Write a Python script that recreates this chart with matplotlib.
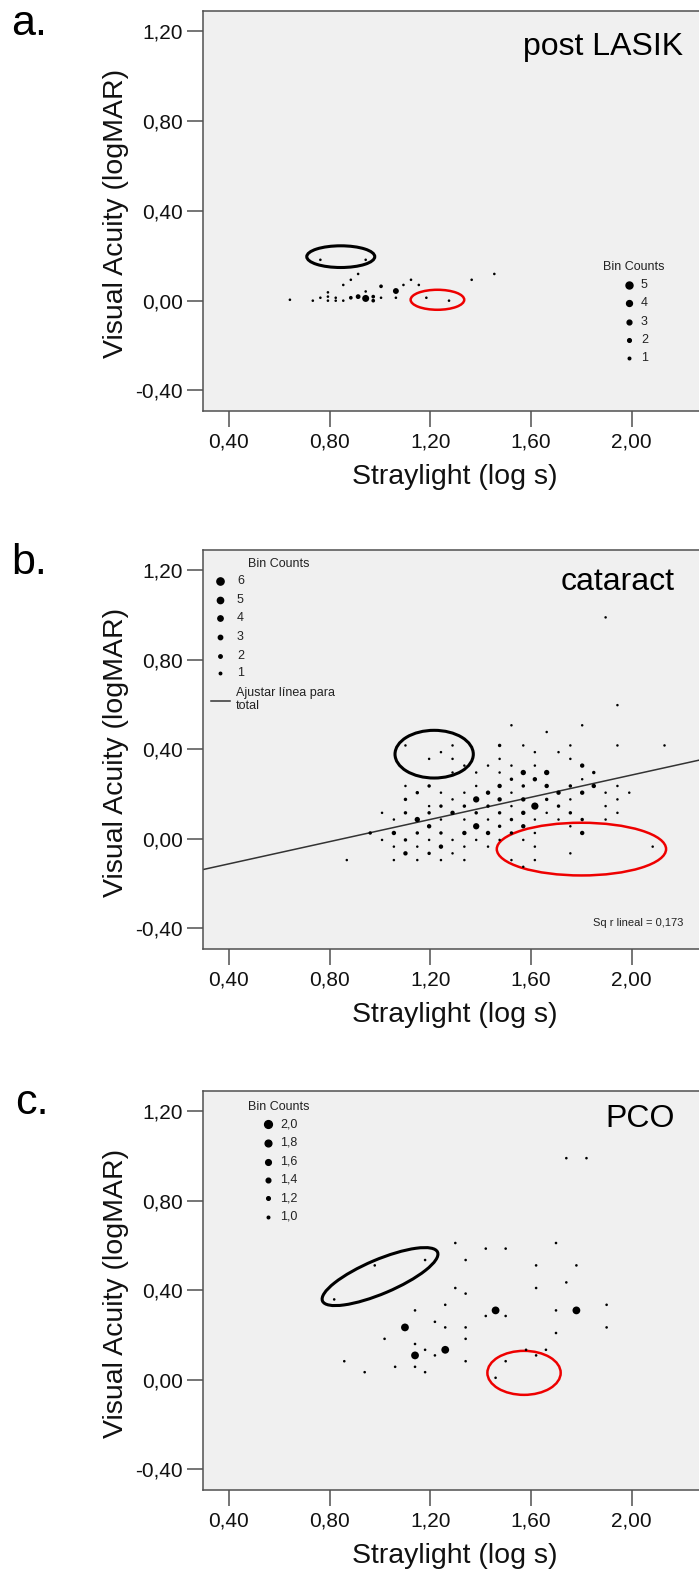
import numpy as np
import matplotlib
matplotlib.use('Agg')
import matplotlib.pyplot as plt
import matplotlib.transforms as mtransforms
from matplotlib.patches import Ellipse
from matplotlib.lines import Line2D

plt.rcParams['font.family'] = ['Liberation Sans', 'DejaVu Sans']

W, H, DPI = 699, 1573, 100

# a. post LASIK  (binned scatter: x, y, count in bin)
a_x = [0.642, 0.733, 0.763, 0.763, 0.793, 0.793, 0.793, 0.824, 0.824, 0.854, 0.854,
       0.884, 0.884, 0.913, 0.913, 0.943, 0.943, 0.943, 0.973, 0.973, 1.004, 1.004,
       1.063, 1.063, 1.093, 1.123, 1.154, 1.184, 1.274, 1.364, 1.454]
a_y = [0.004, 0.000, 0.013, 0.182, 0.037, 0.018, 0.000, 0.013, 0.000, 0.070, 0.000,
       0.093, 0.013, 0.119, 0.018, 0.182, 0.041, 0.010, 0.018, 0.000, 0.064, 0.013,
       0.043, 0.013, 0.070, 0.093, 0.070, 0.013, 0.000, 0.093, 0.119]
a_n = [1, 1, 1, 1, 1, 1, 1, 1, 1, 1, 1,
       1, 2, 1, 3, 1, 1, 5, 2, 2, 2, 1,
       4, 1, 1, 1, 1, 1, 1, 1, 1]

# b. cataract
b_x = [1.896,
       1.943,
       1.522, 1.803,
       1.662,
       1.101, 1.288, 1.475, 1.569, 1.756, 1.943, 2.130,
       1.242, 1.615, 1.709,
       1.195, 1.288, 1.475, 1.756,
       1.335, 1.429, 1.522, 1.615, 1.803,
       1.288, 1.382, 1.475, 1.569, 1.662, 1.849,
       1.522, 1.615, 1.803,
       1.101, 1.195, 1.382, 1.475, 1.569, 1.662, 1.756, 1.849, 1.943,
       1.148, 1.242, 1.335, 1.429, 1.522, 1.709, 1.803, 1.896, 1.990,
       1.101, 1.288, 1.382, 1.475, 1.569, 1.662, 1.756, 1.943,
       1.195, 1.242, 1.335, 1.429, 1.522, 1.615, 1.709, 1.896,
       1.008, 1.101, 1.195, 1.288, 1.382, 1.475, 1.569, 1.662, 1.756, 1.943,
       1.055, 1.148, 1.242, 1.335, 1.429, 1.522, 1.615, 1.709, 1.803, 1.896,
       1.195, 1.382, 1.475, 1.569, 1.756,
       0.961, 1.055, 1.148, 1.242, 1.335, 1.429, 1.522, 1.615, 1.803,
       1.008, 1.101, 1.195, 1.288, 1.382, 1.475, 1.569,
       1.055, 1.148, 1.242, 1.335, 1.429, 1.615, 2.083,
       1.101, 1.195, 1.288, 1.756,
       0.868, 1.055, 1.148, 1.242, 1.335, 1.522, 1.615,
       1.569]
b_y = [0.989,
       0.597,
       0.507, 0.507,
       0.477,
       0.417, 0.417, 0.417, 0.417, 0.417, 0.417, 0.417,
       0.387, 0.387, 0.387,
       0.357, 0.357, 0.357, 0.357,
       0.327, 0.327, 0.327, 0.327, 0.327,
       0.296, 0.296, 0.296, 0.296, 0.296, 0.296,
       0.266, 0.266, 0.266,
       0.236, 0.236, 0.236, 0.236, 0.236, 0.236, 0.236, 0.236, 0.236,
       0.206, 0.206, 0.206, 0.206, 0.206, 0.206, 0.206, 0.206, 0.206,
       0.176, 0.176, 0.176, 0.176, 0.176, 0.176, 0.176, 0.176,
       0.146, 0.146, 0.146, 0.146, 0.146, 0.146, 0.146, 0.146,
       0.116, 0.116, 0.116, 0.116, 0.116, 0.116, 0.116, 0.116, 0.116, 0.116,
       0.086, 0.086, 0.086, 0.086, 0.086, 0.086, 0.086, 0.086, 0.086, 0.086,
       0.056, 0.056, 0.056, 0.056, 0.056,
       0.026, 0.026, 0.026, 0.026, 0.026, 0.026, 0.026, 0.026, 0.026,
       -0.005, -0.005, -0.005, -0.005, -0.005, -0.005, -0.005,
       -0.035, -0.035, -0.035, -0.035, -0.035, -0.035, -0.035,
       -0.065, -0.065, -0.065, -0.065,
       -0.095, -0.095, -0.095, -0.095, -0.095, -0.095, -0.095,
       -0.125]
b_n = [1,
       1,
       1, 1,
       1,
       1, 1, 2, 1, 1, 1, 1,
       1, 1, 1,
       1, 1, 1, 1,
       1, 1, 1, 1, 3,
       1, 1, 1, 4, 4, 2,
       2, 3, 1,
       1, 2, 1, 3, 2, 3, 2, 3, 1,
       2, 1, 1, 3, 1, 3, 3, 1, 1,
       2, 1, 5, 3, 3, 2, 1, 1,
       1, 2, 2, 2, 1, 6, 2, 1,
       1, 2, 2, 3, 2, 2, 3, 1, 2, 1,
       1, 4, 1, 1, 1, 2, 1, 1, 2, 1,
       3, 5, 2, 3, 1,
       2, 3, 2, 2, 3, 3, 2, 1, 3,
       1, 2, 1, 1, 1, 1, 1,
       1, 1, 3, 1, 1, 1, 1,
       3, 2, 1, 1,
       1, 1, 1, 1, 1, 1, 1,
       1]
fit_intercept = -0.211
fit_slope = 0.248
fit_r2 = '0,173'

# c. PCO
c_x = [1.740, 1.820,
       1.299, 1.699,
       1.420, 1.499,
       1.179, 1.340,
       0.979, 1.620, 1.780,
       1.740,
       1.299, 1.620,
       1.340,
       0.818,
       1.259, 1.900,
       1.139, 1.459, 1.699, 1.780,
       1.420, 1.499,
       1.218,
       1.099, 1.259, 1.340, 1.900,
       1.699,
       1.018, 1.340,
       1.139,
       1.179, 1.259, 1.580, 1.659,
       1.139, 1.218, 1.620,
       0.858, 1.340, 1.499,
       1.060, 1.139,
       0.939, 1.179,
       1.459]
c_y = [0.990, 0.990,
       0.611, 0.611,
       0.586, 0.586,
       0.535, 0.535,
       0.511, 0.511, 0.511,
       0.435,
       0.410, 0.410,
       0.385,
       0.359,
       0.335, 0.335,
       0.310, 0.310, 0.310, 0.310,
       0.285, 0.285,
       0.259,
       0.234, 0.234, 0.234, 0.234,
       0.209,
       0.183, 0.183,
       0.160,
       0.134, 0.134, 0.134, 0.134,
       0.109, 0.109, 0.109,
       0.083, 0.083, 0.083,
       0.058, 0.058,
       0.034, 0.034,
       0.009]
c_n = [1.0, 1.0,
       1.0, 1.0,
       1.0, 1.0,
       1.0, 1.0,
       1.0, 1.0, 1.0,
       1.0,
       1.0, 1.0,
       1.0,
       1.0,
       1.0, 1.0,
       1.0, 2.0, 1.0, 2.0,
       1.0, 1.0,
       1.0,
       2.0, 1.0, 1.0, 1.0,
       1.0,
       1.0, 1.0,
       1.0,
       1.0, 2.0, 1.0, 1.0,
       2.0, 1.0, 1.0,
       1.0, 1.0, 1.0,
       1.0, 1.0,
       1.0, 1.0,
       1.0]

a_leg = [5, 4, 3, 2, 1]
b_leg = [6, 5, 4, 3, 2, 1]
c_leg = [2.0, 1.8, 1.6, 1.4, 1.2, 1.0]

xticks = [0.40, 0.80, 1.20, 1.60, 2.00]
yticks = [-0.40, 0.00, 0.40, 0.80, 1.20]


# marker diameter in pixels for a bin count
def dia_a(n):
    return 2.6 + (n - 1) * 1.1


def dia_b(n):
    return 2.5 + (n - 1) * 0.95


def dia_c(n):
    return 2.6 + (n - 1.0) * 5.2


def fx(px):
    return px / W


def fy(py):
    return 1 - py / H


def comma(v):
    return ('%.2f' % v).replace('.', ',')


fig = plt.figure(figsize=(W / DPI, H / DPI), dpi=DPI)


def make_axes(top, bottom):
    ax = fig.add_axes([fx(203.3), fy(bottom), fx(699) - fx(203.3), (bottom - top) / H])
    ax.set_facecolor('#f0f0f0')
    ax.set_xlim(0.298, 2.267)
    ax.set_ylim(-0.49, 1.29)
    ax.set_xticks(xticks)
    ax.set_xticklabels([comma(v) for v in xticks])
    ax.set_yticks(yticks)
    ax.set_yticklabels([comma(v) for v in yticks])
    ax.tick_params(direction='out', length=11.5, width=1.1, color='#505050',
                   labelsize=15, labelcolor='#111111')
    ax.tick_params(axis='x', pad=4.5)
    ax.tick_params(axis='y', pad=3)
    for s in ['left', 'top', 'bottom']:
        ax.spines[s].set_color('#505050')
        ax.spines[s].set_linewidth(1.1)
    ax.spines['right'].set_visible(False)
    ax.set_xlabel('Straylight (log s)', fontsize=20.5, color='#111111')
    ax.set_ylabel('Visual Acuity (logMAR)', fontsize=20.5, color='#111111')
    ax.xaxis.set_label_coords(0.508, -0.133)
    ax.yaxis.set_label_coords(-0.150, 0.493)
    return ax


def ring(ax, cx, cy, w_px, h_px, color, lw, angle=0):
    trans = fig.dpi_scale_trans + mtransforms.ScaledTranslation(cx, cy, ax.transData)
    e = Ellipse((0, 0), w_px / DPI, h_px / DPI, angle=angle, transform=trans,
                fill=False, edgecolor=color, linewidth=lw, clip_on=False)
    ax.add_patch(e)


def bin_legend(title_xy, mark_x, text_x, rows_y, counts, labels, dia):
    fig.text(fx(title_xy[0]), fy(title_xy[1]), title_xy[2], ha='center', va='center',
             fontsize=9, color='#222222')
    for yy, n, lab in zip(rows_y, counts, labels):
        fig.add_artist(Line2D([fx(mark_x)], [fy(yy)], marker='o', ms=dia(n) * 72 / DPI,
                              color='black', ls='none', transform=fig.transFigure))
        fig.text(fx(text_x), fy(yy), lab, ha='left', va='center', fontsize=9, color='#222222')


# ---- panel a
ax1 = make_axes(11, 410.7)
ax1.scatter(a_x, a_y, s=[(dia_a(n) * 72 / DPI) ** 2 for n in a_n], c='black', linewidths=0, zorder=3)
ring(ax1, 0.844, 0.196, 68, 21.7, 'black', 2.2)
ring(ax1, 1.228, 0.004, 53.6, 20, '#ee0000', 1.8)
fig.text(fx(683), fy(55), 'post LASIK', ha='right', va='baseline', fontsize=23)
fig.text(fx(11), fy(35), 'a.', ha='left', va='baseline', fontsize=31)
bin_legend((634, 267, 'Bin Counts'), 629, 641, [285, 303.3, 321.7, 340, 358.3],
           a_leg, [str(n) for n in a_leg], dia_a)

# ---- panel b
ax2 = make_axes(550, 948.5)
ax2.scatter(b_x, b_y, s=[(dia_b(n) * 72 / DPI) ** 2 for n in b_n], c='black', linewidths=0, zorder=3)
xl = np.array(ax2.get_xlim())
ax2.plot(xl, fit_intercept + fit_slope * xl, color='#333333', lw=1.1, zorder=2)
ring(ax2, 1.215, 0.378, 78.3, 47.7, 'black', 2.2)
ring(ax2, 1.800, -0.046, 169.3, 52.7, '#ee0000', 1.8)
fig.text(fx(675), fy(590), 'cataract', ha='right', va='baseline', fontsize=23)
fig.text(fx(683), fy(923), 'Sq r lineal = ' + fit_r2, ha='right', va='center', fontsize=8,
         color='#222222')
fig.text(fx(11), fy(574), 'b.', ha='left', va='baseline', fontsize=31)
bin_legend((279, 564, 'Bin Counts'), 220, 237, [581, 600, 618.3, 637.3, 655.7, 673.3],
           b_leg, [str(n) for n in b_leg], dia_b)
fig.add_artist(Line2D([fx(211), fx(230)], [fy(700.7), fy(700.7)], color='#333333', lw=1.1,
                      transform=fig.transFigure))
fig.text(fx(236), fy(692.7), 'Ajustar línea para', ha='left', va='center', fontsize=9,
         color='#222222')
fig.text(fx(236), fy(706), 'total', ha='left', va='center', fontsize=9, color='#222222')

# ---- panel c
ax3 = make_axes(1091, 1489.5)
ax3.scatter(c_x, c_y, s=[(dia_c(n) * 72 / DPI) ** 2 for n in c_n], c='black', linewidths=0, zorder=3)
ring(ax3, 1.000, 0.461, 125, 34, 'black', 2.2, angle=23)
ring(ax3, 1.572, 0.031, 73.3, 44, '#ee0000', 1.8)
fig.text(fx(675), fy(1127), 'PCO', ha='right', va='baseline', fontsize=23)
fig.text(fx(15), fy(1114), 'c.', ha='left', va='baseline', fontsize=31)
bin_legend((279, 1106.7, 'Bin Counts'), 267.7, 280, [1124.3, 1142.7, 1161.7, 1180, 1198.3, 1216.7],
           c_leg, [('%.1f' % v).replace('.', ',') for v in c_leg], dia_c)

fig.savefig('out.png', dpi=DPI, facecolor='white')
